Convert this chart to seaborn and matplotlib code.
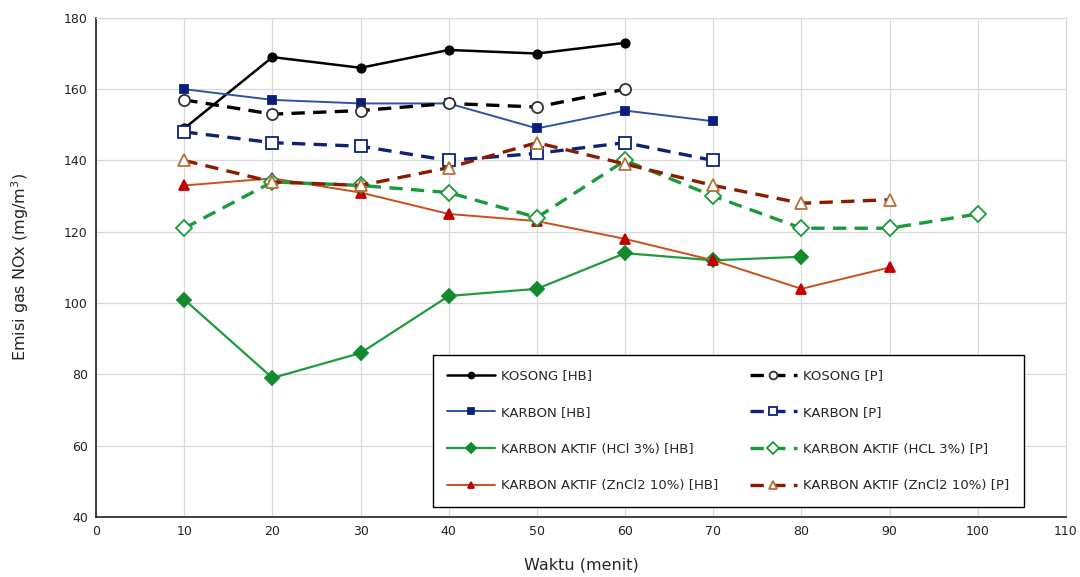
import pandas as pd
import numpy as np
import matplotlib.pyplot as plt
import seaborn as sns

sns.set_style("white")
plt.rcParams["font.family"] = ["DejaVu Sans"]

# data
waktu = [10, 20, 30, 40, 50, 60, 70, 80, 90, 100]

kosong_hb = [149, 169, 166, 171, 170, 173]
kosong_p = [157, 153, 154, 156, 155, 160]
karbon_hb = [160, 157, 156, 156, 149, 154, 151]
karbon_p = [148, 145, 144, 140, 142, 145, 140]
hcl_hb = [101, 79, 86, 102, 104, 114, 112, 113]
hcl_p = [121, 134, 133, 131, 124, 140, 130, 121, 121, 125]
zncl_hb = [133, 135, 131, 125, 123, 118, 112, 104, 110]
zncl_p = [140, 134, 133, 138, 145, 139, 133, 128, 129]

labels = [
    "KOSONG [HB]",
    "KARBON [HB]",
    "KARBON AKTIF (HCl 3%) [HB]",
    "KARBON AKTIF (ZnCl2 10%) [HB]",
    "KOSONG [P]",
    "KARBON [P]",
    "KARBON AKTIF (HCL 3%) [P]",
    "KARBON AKTIF (ZnCl2 10%) [P]",
]
series = [kosong_hb, karbon_hb, hcl_hb, zncl_hb, kosong_p, karbon_p, hcl_p, zncl_p]

# style per series: color, marker, marker size, face, edge, linewidth, dashed
styles = [
    dict(color="black", marker="o", ms=6, mfc="black", mec="black", lw=1.8, ls="-"),
    dict(color="#2f52a8", marker="s", ms=5.5, mfc="#0a1f7a", mec="#0a1f7a", lw=1.4, ls="-"),
    dict(color="#1f9a3c", marker="D", ms=7, mfc="#138a2e", mec="#138a2e", lw=1.6, ls="-"),
    dict(color="#c8501a", marker="^", ms=6.5, mfc="#c00000", mec="#c00000", lw=1.4, ls="-"),
    dict(color="black", marker="o", ms=8, mfc="white", mec="#333333", lw=2.4, ls="--"),
    dict(color="#0d2275", marker="s", ms=8, mfc="white", mec="#0d2275", lw=2.4, ls="--"),
    dict(color="#1a9a3a", marker="D", ms=8.5, mfc="white", mec="#1a9a3a", lw=2.4, ls="--"),
    dict(color="#8b1a00", marker="^", ms=9, mfc="white", mec="#b5703a", lw=2.4, ls="--"),
]

fig = plt.figure(figsize=(10.8, 5.77), dpi=100)
ax = fig.add_axes([0.089, 0.104, 0.898, 0.865])

handles = []
for lab, vals, st in zip(labels, series, styles):
    df = pd.DataFrame({"Waktu": waktu[: len(vals)], "NOx": vals})
    sns.lineplot(data=df, x="Waktu", y="NOx", ax=ax, color=st["color"],
                 linewidth=st["lw"], linestyle=st["ls"], marker=st["marker"],
                 markersize=st["ms"], markerfacecolor=st["mfc"],
                 markeredgecolor=st["mec"], markeredgewidth=1.3,
                 label=lab, legend=False)
    line = ax.lines[-1]
    if st["ls"] == "--":
        line.set_dashes((4.0, 2.5))
    handles.append(line)

ax.set_xlim(0, 110)
ax.set_ylim(40, 180)
ax.set_xticks(np.arange(0, 111, 10))
ax.set_yticks(np.arange(40, 181, 20))
ax.grid(True, color="#d9d9d9", linewidth=0.9)
ax.set_axisbelow(True)
for s in ["top", "right"]:
    ax.spines[s].set_color("#d9d9d9")
for s in ["left", "bottom"]:
    ax.spines[s].set_color("#222222")
    ax.spines[s].set_linewidth(1.2)
ax.tick_params(axis="both", labelsize=9, length=0, pad=6, colors="#222222")

ax.set_xlabel("Waktu (menit)", fontsize=11.5, labelpad=14)
ax.set_ylabel(r"Emisi gas NOx (mg/m$^3$)", fontsize=11.5, labelpad=24)

leg = ax.legend(handles=handles, labels=labels, ncol=2,
                bbox_to_anchor=(0.347, 0.02), loc="lower left",
                borderaxespad=0, fontsize=9.5, frameon=True, fancybox=False,
                edgecolor="black", framealpha=1, handlelength=3.6,
                labelspacing=1.8, borderpad=1.1, columnspacing=2.4,
                handletextpad=0.45, markerscale=0.7)
leg.get_frame().set_linewidth(1.0)

fig.savefig("out.png", dpi=100)
